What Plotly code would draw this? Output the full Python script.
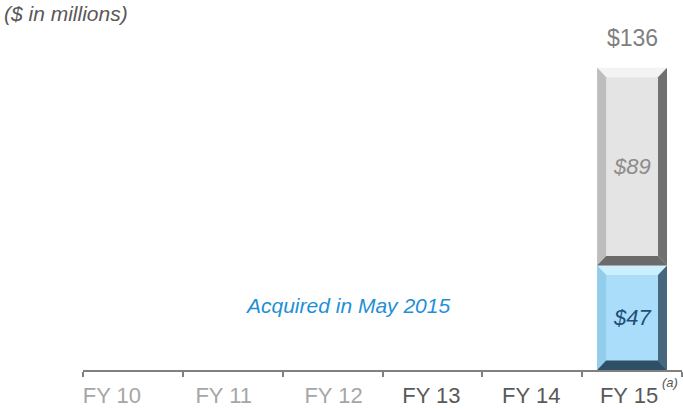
import plotly.graph_objects as go

# Fiscal years on the category axis
years = ["FY 10", "FY 11", "FY 12", "FY 13", "FY 14", "FY 15"]
year_colors = ["#a6a6a6", "#a6a6a6", "#a6a6a6", "#595959", "#595959", "#595959"]

# Revenue in $ millions, split into the acquired business and the remainder
acquired = [None, None, None, None, None, 47]
other = [None, None, None, None, None, 89]

BAR_WIDTH = 0.7
x_pos = list(range(len(years)))
# small horizontal nudges of the year labels (in category units)
label_nudge = [-0.21, -0.09, 0.01, -0.01, -0.01, -0.03]

fig = go.Figure()

# Stacked bars: acquired segment at the base, remainder on top
fig.add_bar(x=x_pos, y=acquired, width=BAR_WIDTH, marker=dict(color="#a9ddf9", line=dict(width=0)),
            hoverinfo="skip")
fig.add_bar(x=x_pos, y=other, width=BAR_WIDTH, marker=dict(color="#e4e4e4", line=dict(width=0)),
            hoverinfo="skip")


def bevel(x0, x1, y0, y1, top, left, right, bottom, dx=0.09, dy=4.3):
    """Trapezoid edges giving the segment a raised, bevelled look."""
    def path(pts):
        return "M " + " L ".join(f"{px},{py}" for px, py in pts) + " Z"
    sides = [
        ([(x0, y1), (x1, y1), (x1 - dx, y1 - dy), (x0 + dx, y1 - dy)], top),
        ([(x0, y0), (x0, y1), (x0 + dx, y1 - dy), (x0 + dx, y0 + dy)], left),
        ([(x1, y0), (x1, y1), (x1 - dx, y1 - dy), (x1 - dx, y0 + dy)], right),
        ([(x0, y0), (x1, y0), (x1 - dx, y0 + dy), (x0 + dx, y0 + dy)], bottom),
    ]
    for pts, col in sides:
        fig.add_shape(type="path", path=path(pts), xref="x", yref="y",
                      fillcolor=col, line=dict(width=0), layer="above")


for i, (a, o) in enumerate(zip(acquired, other)):
    if a is None:
        continue
    xl, xr = i - BAR_WIDTH / 2, i + BAR_WIDTH / 2
    bevel(xl, xr, 0, a, "#cdeefd", "#93cdec", "#45667c", "#2f4f66")
    bevel(xl, xr, a, a + o, "#f3f3f3", "#bdbdbd", "#707070", "#6a6a6a")
    # Segment values
    fig.add_annotation(x=i, y=a / 2, text="<i>$%d</i>" % a, showarrow=False,
                       font=dict(size=22, color="#1f4e79"))
    fig.add_annotation(x=i, y=a + o / 2, text="<i>$%d</i>" % o, showarrow=False,
                       font=dict(size=22, color="#8c8c8c"))
    # Total above the bar
    fig.add_annotation(x=i, y=a + o, text="$%d" % (a + o), showarrow=False,
                       yanchor="bottom", yshift=15, font=dict(size=23, color="#7f7f7f"))

# Footnote marker beside the last year
fig.add_annotation(x=5.38, y=0, yref="y", text="<i>(a)</i>", showarrow=False,
                   yshift=-12, font=dict(size=13, color="#595959"))

fig.add_annotation(x=2.15, y=29, text="<i>Acquired in May 2015</i>", showarrow=False,
                   font=dict(size=21, color="#1f8fd6"))

fig.add_annotation(xref="paper", yref="paper", x=-0.136, y=1.0, xanchor="left",
                   yanchor="bottom", yshift=-7, text="<i>($ in millions)</i>", showarrow=False,
                   font=dict(size=21, color="#595959"))

fig.update_layout(
    barmode="stack",
    width=683, height=409,
    margin=dict(l=83, r=1, t=20, b=37),
    paper_bgcolor="white", plot_bgcolor="white",
    showlegend=False,
    font=dict(family="Liberation Sans, Arial, sans-serif"),
    xaxis=dict(
        range=[-0.5, 5.5],
        tickvals=[p + n for p, n in zip(x_pos, label_nudge)],
        ticktext=[f"<span style='color:{c}'>{y}</span>" for y, c in zip(years, year_colors)],
        ticks="", showgrid=False, zeroline=False,
        showline=True, linecolor="#808080", linewidth=1.5,
        tickfont=dict(size=22), ticklabelstandoff=5,
        minor=dict(tickvals=[v - 0.5 for v in range(len(years) + 1)], ticks="outside",
                   ticklen=5, tickcolor="#808080", tickwidth=1.5, showgrid=False),
    ),
    yaxis=dict(range=[0, 157.5], visible=False, fixedrange=True),
)

fig.write_html("out.html")
